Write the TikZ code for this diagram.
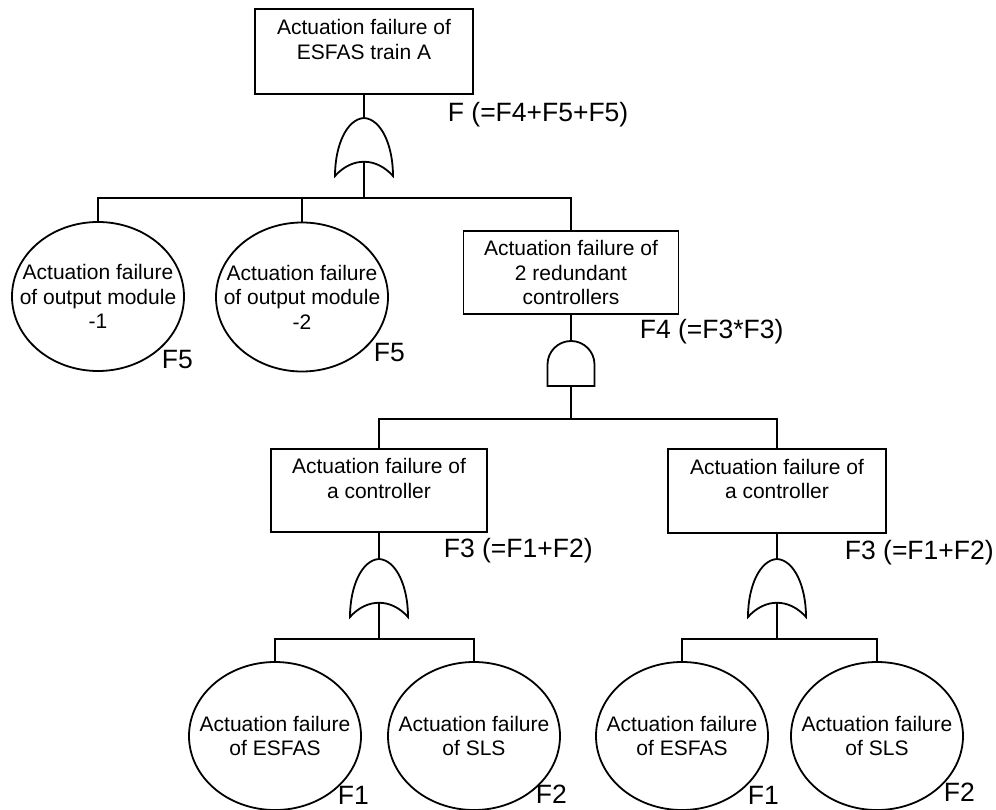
\documentclass[tikz,border=0pt]{standalone}
\usepackage{fontspec}
\setmainfont{Liberation Sans}
\usetikzlibrary{shapes.geometric}
\begin{document}
\begin{tikzpicture}[x=1pt, y=-1pt, line width=1.8pt,
  event/.style={draw, rectangle, inner sep=0pt, align=center,
    font=\fontsize{21}{24.5}\selectfont},
  basic/.style={draw, ellipse, minimum width=172pt, minimum height=148pt,
    inner sep=-20pt, outer sep=0pt, align=center, font=\fontsize{21}{24.5}\selectfont},
  prob/.style={anchor=west, inner sep=0pt, font=\fontsize{26.5}{30}\selectfont},
  orgate/.pic={
    \draw (-29,58) .. controls (-29,27) and (-17,1) .. (0,0)
          .. controls (17,1) and (29,27) .. (29,58)
          .. controls (12,39) and (-12,39) .. cycle;
    \coordinate (-in) at (0,0);
    \coordinate (-out) at (0,44);
  },
  andgate/.pic={
    \draw (-23.5,45) -- (-23.5,23.5) arc[start angle=180, end angle=0, radius=23.5pt]
          -- (23.5,45) -- cycle;
    \coordinate (-in) at (0,0);
    \coordinate (-out) at (0,45);
  }]
\useasboundingbox (0,0) rectangle (996,810);

% events
\node[event, minimum width=218pt, minimum height=85pt] (top) at (364,51.5)
  {Actuation failure of\\ESFAS train A\\\mbox{}};
\node[event, minimum width=215pt, minimum height=83pt] (mid) at (571,272.5)
  {Actuation failure of\\2 redundant\\controllers};
\node[event, minimum width=216pt, minimum height=83pt] (boxL) at (379,490.5)
  {Actuation failure of\\a controller\\\mbox{}};
\node[event, minimum width=218pt, minimum height=84pt] (boxR) at (777,491)
  {Actuation failure of\\a controller\\\mbox{}};

% basic events
\node[basic, minimum height=149pt] (e1) at (98,296.5)
  {Actuation failure\\of output module\\-1};
\node[basic, minimum height=149pt] (e2) at (302,297)
  {Actuation failure\\of output module\\-2};
\node[basic] (b1) at (275,736) {Actuation failure\\of ESFAS};
\node[basic] (b2) at (474,736) {Actuation failure\\of SLS};
\node[basic] (b3) at (682,736) {Actuation failure\\of ESFAS};
\node[basic] (b4) at (877,736) {Actuation failure\\of SLS};

% gates
\pic (g0) at (364,118) {orgate};
\pic (g1) at (571,341) {andgate};
\pic (g2) at (379,559) {orgate};
\pic (g3) at (777,559) {orgate};

% junctions
\coordinate (j0) at (364,198);
\coordinate (j1) at (571,419);
\coordinate (j2) at (379,639);
\coordinate (j3) at (777,639);

% connectors
\draw (top.south) -- (g0-in);
\draw (g0-out) -- (j0);
\draw (e1.north) |- (j0);
\draw (e2.north) -- (e2.north |- j0);
\draw (mid.north) |- (j0);

\draw (mid.south) -- (g1-in);
\draw (g1-out) -- (j1);
\draw (boxL.north) |- (j1);
\draw (boxR.north) |- (j1);

\draw (boxL.south) -- (g2-in);
\draw (g2-out) -- (j2);
\draw (b1.north) |- (j2);
\draw (b2.north) |- (j2);

\draw (boxR.south) -- (g3-in);
\draw (g3-out) -- (j3);
\draw (b3.north) |- (j3);
\draw (b4.north) |- (j3);

% probability labels
\node[prob] (pF)   at (447,115) {F (=F4+F5+F5)};
\node[prob] (pF4)  at (639,332) {F4 (=F3*F3)};
\node[prob] (pF3a) at (443,551) {F3 (=F1+F2)};
\node[prob] (pF3b) at (844,553) {F3 (=F1+F2)};
\node[prob] (pF5a) at (161,360) {F5};
\node[prob] (pF5b) at (373,353) {F5};
\node[prob] (pF1a) at (337,795) {F1};
\node[prob] (pF2a) at (535,794) {F2};
\node[prob] (pF1b) at (747,795) {F1};
\node[prob] (pF2b) at (943,792) {F2};
\end{tikzpicture}
\end{document}
